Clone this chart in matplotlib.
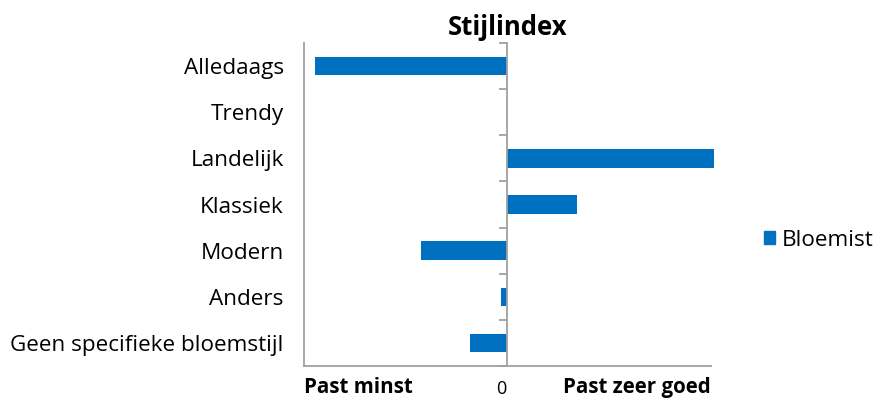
import numpy as np
import matplotlib.pyplot as plt
from matplotlib.patches import Patch
from matplotlib.transforms import ScaledTranslation

plt.rcParams["font.family"] = ["Open Sans", "DejaVu Sans"]

categories = ["Alledaags", "Trendy", "Landelijk", "Klassiek", "Modern", "Anders",
              "Geen specifieke bloemstijl"]
values = [-0.945, 0.0, 1.015, 0.34, -0.425, -0.032, -0.183]
series_name = "Bloemist"
x_ticks = [-1, 0, 1]
x_labels = ["Past minst", "0", "Past zeer goed"]

bar_color = "#0070C0"
axis_color = "#A0A0A0"
fs = 16.2

fig = plt.figure(figsize=(8.75, 4.01), dpi=100)
ax = fig.add_axes([304 / 875, 1 - 366 / 401, (711 - 304) / 875, (366 - 43) / 401])

# right spine moved to zero acts as the centre line (do this before tick styling)
ax.spines["right"].set_position(("data", 0))
ax.spines["top"].set_visible(False)
for s in ["left", "right", "bottom"]:
    ax.spines[s].set_color(axis_color)
    ax.spines[s].set_linewidth(1.3)
ax.spines["right"].set_zorder(4)

n = len(categories)
ypos = np.arange(n)
ax.barh(ypos, values, height=0.4, color=bar_color, clip_on=False, zorder=3)
ax.set_xlim(-1, 1)
ax.set_ylim(n - 0.5, -0.5)

# category labels on the left edge
ax.set_yticks(ypos)
ax.set_yticklabels(categories, fontsize=fs)
ax.set_yticks(np.arange(n + 1) - 0.5, minor=True)
ax.tick_params(axis="y", which="major", left=False, right=False, pad=11)
ax.tick_params(axis="y", which="minor", left=False, right=True, direction="in",
               length=6, width=1.3, color=axis_color)

ax.set_xticks(x_ticks)
ax.set_xticklabels(x_labels, fontsize=14.8, fontweight="bold")
ax.set_xticks([-1, 0], minor=True)
ax.tick_params(axis="x", which="major", length=0, pad=8)
ax.tick_params(axis="x", which="minor", length=4, width=1.3, color=axis_color)
lbls = ax.get_xticklabels()
lbls[0].set_ha("left")
lbls[1].set_fontweight("normal")
lbls[1].set_fontsize(13)
lbls[1].set_transform(lbls[1].get_transform()
                      + ScaledTranslation(-0.06, -0.03, fig.dpi_scale_trans))
lbls[2].set_ha("right")

ax.set_title("Stijlindex", fontsize=18.5, fontweight="bold", pad=6)

fig.legend(handles=[Patch(color=bar_color, label=series_name)],
           loc="center left", bbox_to_anchor=(764 / 875, 1 - 240 / 401),
           frameon=False, fontsize=fs, handlelength=0.5, handleheight=0.5,
           handletextpad=0.3, borderpad=0, borderaxespad=0)

fig.savefig("out.png", dpi=100)
